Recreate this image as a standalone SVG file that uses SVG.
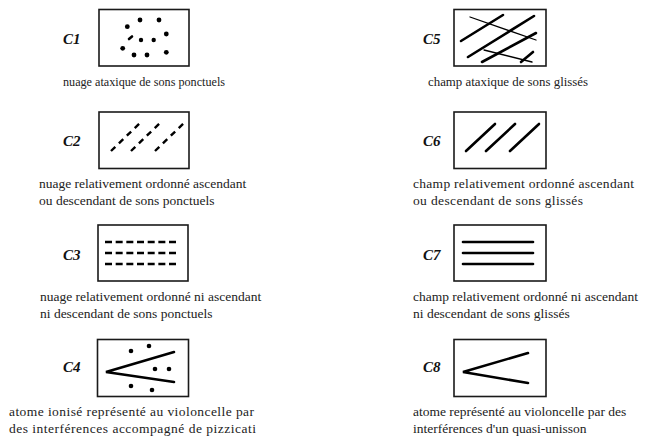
<svg xmlns="http://www.w3.org/2000/svg" width="648" height="442" viewBox="0 0 648 442">
  <style>
    .box { fill: #fff; stroke: #1a1a1a; stroke-width: 1.6; }
    .lbl { font-family: "Times New Roman", "Liberation Serif", "DejaVu Serif", serif; font-size: 15px; font-weight: bold; font-style: italic; fill: #111; }
    .cap { font-family: "Times New Roman", "Liberation Serif", "DejaVu Serif", serif; font-size: 13.5px; fill: #222; }
    .stroke { stroke: #000; stroke-width: 2.6; fill: none; stroke-linecap: round; }
    .thin { stroke: #000; stroke-width: 1.3; fill: none; stroke-linecap: round; }
    .dash2 { stroke: #000; stroke-width: 2.4; fill: none; stroke-dasharray: 6 5; }
    .dash3 { stroke: #000; stroke-width: 2.4; fill: none; stroke-dasharray: 7 3.67; }
    .dot { fill: #000; }
  </style>
  <rect width="648" height="442" fill="#fff"/>

  <!-- C1: ataxic cloud of point sounds -->
  <g id="c1">
    <text class="lbl" x="63" y="44">C1</text>
    <rect class="box" x="99" y="9.5" width="90" height="56.5"/>
    <circle class="dot" cx="140" cy="20" r="2.4"/>
    <circle class="dot" cx="159" cy="20" r="2.4"/>
    <circle class="dot" cx="127.3" cy="26.7" r="2.4"/>
    <line class="stroke" x1="129" y1="39" x2="132" y2="36.5"/>
    <circle class="dot" cx="141" cy="40" r="2.2"/>
    <circle class="dot" cx="153.7" cy="40" r="2.2"/>
    <circle class="dot" cx="166.3" cy="34" r="2.4"/>
    <circle class="dot" cx="122.7" cy="48.3" r="2.4"/>
    <circle class="dot" cx="134" cy="55" r="2.4"/>
    <circle class="dot" cx="147" cy="55" r="2.4"/>
    <circle class="dot" cx="166.3" cy="52.3" r="2.4"/>
    <text class="cap" x="63" y="86" textLength="162" lengthAdjust="spacingAndGlyphs">nuage ataxique de sons ponctuels</text>
  </g>

  <!-- C2: ordered rising/falling cloud of point sounds -->
  <g id="c2">
    <text class="lbl" x="63" y="146">C2</text>
    <rect class="box" x="99" y="112" width="90" height="56.5"/>
    <line class="dash2" x1="111" y1="151" x2="140" y2="123"/>
    <line class="dash2" x1="131" y1="151" x2="160" y2="123"/>
    <line class="dash2" x1="155" y1="151" x2="184" y2="123"/>
    <text class="cap" x="39" y="188">nuage relativement ordonné ascendant</text>
    <text class="cap" x="39" y="205">ou descendant de sons ponctuels</text>
  </g>

  <!-- C3: ordered static cloud of point sounds -->
  <g id="c3">
    <text class="lbl" x="63" y="260">C3</text>
    <rect class="box" x="98" y="225" width="90" height="56"/>
    <line class="dash3" x1="105" y1="242" x2="176" y2="242"/>
    <line class="dash3" x1="105" y1="253" x2="176" y2="253"/>
    <line class="dash3" x1="105" y1="264" x2="176" y2="264"/>
    <text class="cap" x="40" y="301">nuage relativement ordonné ni ascendant</text>
    <text class="cap" x="40" y="318">ni descendant de sons ponctuels</text>
  </g>

  <!-- C4: ionised atom with pizzicati -->
  <g id="c4">
    <text class="lbl" x="63" y="372">C4</text>
    <rect class="box" x="97.5" y="339.5" width="91" height="57"/>
    <polyline class="stroke" points="174,352 106,372 174,382"/>
    <circle class="dot" cx="131" cy="351" r="2.3"/>
    <circle class="dot" cx="149" cy="346" r="2.3"/>
    <circle class="dot" cx="155" cy="369" r="2.3"/>
    <circle class="dot" cx="169" cy="369" r="2.3"/>
    <circle class="dot" cx="131" cy="386" r="2.3"/>
    <circle class="dot" cx="152" cy="390" r="2.3"/>
    <text class="cap" x="9" y="416" textLength="245" lengthAdjust="spacing">atome ionisé représenté au violoncelle par</text>
    <text class="cap" x="9" y="433" textLength="247" lengthAdjust="spacing">des interférences accompagné de pizzicati</text>
  </g>

  <!-- C5: ataxic field of glissandi -->
  <g id="c5">
    <text class="lbl" x="423" y="44">C5</text>
    <rect class="box" x="454" y="9.5" width="92" height="56.5"/>
    <line class="thin" x1="470" y1="17" x2="536" y2="40"/>
    <line class="thin" x1="484" y1="50" x2="532" y2="62"/>
    <line class="stroke" x1="461" y1="41" x2="503" y2="15"/>
    <line class="stroke" x1="468" y1="57" x2="534" y2="16"/>
    <line class="stroke" x1="482" y1="62" x2="536" y2="33"/>
    <line class="stroke" x1="521" y1="62" x2="533" y2="52"/>
    <text class="cap" x="428" y="86" textLength="160" lengthAdjust="spacingAndGlyphs">champ ataxique de sons glissés</text>
  </g>

  <!-- C6: ordered rising/falling field of glissandi -->
  <g id="c6">
    <text class="lbl" x="423" y="146">C6</text>
    <rect class="box" x="454" y="112" width="92" height="56.5"/>
    <line class="stroke" x1="466" y1="151" x2="495" y2="124"/>
    <line class="stroke" x1="486" y1="151" x2="515" y2="124"/>
    <line class="stroke" x1="510" y1="151" x2="539" y2="124"/>
    <text class="cap" x="413" y="188" textLength="221" lengthAdjust="spacing">champ relativement ordonné ascendant</text>
    <text class="cap" x="413" y="205" textLength="170" lengthAdjust="spacing">ou descendant de sons glissés</text>
  </g>

  <!-- C7: ordered static field of glissandi -->
  <g id="c7">
    <text class="lbl" x="423" y="260">C7</text>
    <rect class="box" x="454" y="225" width="92" height="56"/>
    <line class="stroke" x1="463" y1="242" x2="533" y2="242"/>
    <line class="stroke" x1="463" y1="253" x2="533" y2="253"/>
    <line class="stroke" x1="463" y1="264" x2="533" y2="264"/>
    <text class="cap" x="413" y="301">champ relativement ordonné ni ascendant</text>
    <text class="cap" x="413" y="318">ni descendant de sons glissés</text>
  </g>

  <!-- C8: atom of near-unison interferences -->
  <g id="c8">
    <text class="lbl" x="423" y="372">C8</text>
    <rect class="box" x="454" y="339.5" width="92" height="57"/>
    <polyline class="stroke" points="528,353 463,372 528,383"/>
    <text class="cap" x="413" y="416">atome représenté au violoncelle par des</text>
    <text class="cap" x="413" y="433">interférences d'un quasi-unisson</text>
  </g>

  <g id="connectors"/>
</svg>
